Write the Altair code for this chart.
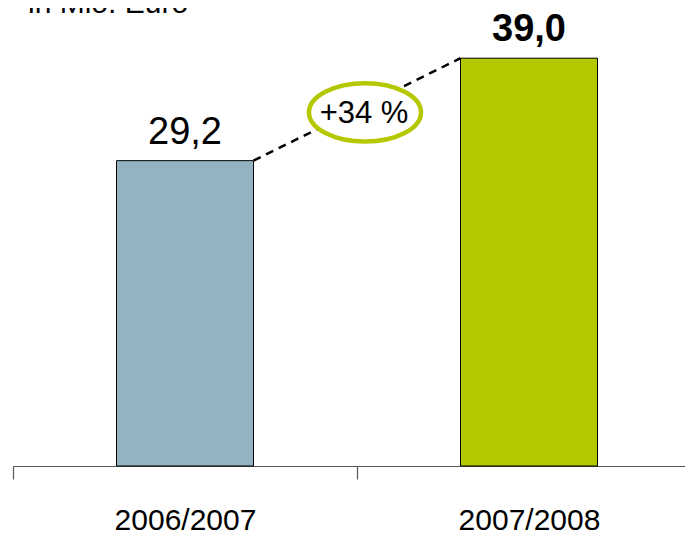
import altair as alt
import pandas as pd

categories = ["2006/2007", "2007/2008"]
values = [29.2, 39.0]
value_labels = ["29,2", "39,0"]
bar_colors = ["#94B2C2", "#B4C800"]
change_label = "+34 %"
unit_label = "in Mio. Euro"

FONT = "Liberation Sans"
W, H = 672, 458
STEP = 344  # pixel width of one category slot

# category slot centres (index + 0.5) on a continuous x scale
pos = [i + 0.5 for i in range(len(categories))]

df = pd.DataFrame({"cat": categories, "pos": pos, "val": values, "lab": value_labels, "col": bar_colors})
df_line = pd.DataFrame({"p1": [pos[0]], "p2": [pos[1]], "v1": [values[0]], "v2": [values[1]]})
df_ann = pd.DataFrame({"pos": [(pos[0] + pos[1]) / 2], "val": [sum(values) / 2], "lab": [change_label]})
df_title = pd.DataFrame({"t": [unit_label]})

xscale = alt.Scale(domain=[0, W / STEP], nice=False, zero=False, padding=0)
yscale = alt.Scale(domain=[0, 43.8], nice=False, zero=True, padding=0)

label_expr = " : ".join(
    [f"datum.value == {p} ? '{c}'" for p, c in zip(pos, categories)] + ["''"]
)
tick_vals = sorted([float(i) for i in range(len(categories))] + pos)

x_axis = alt.Axis(
    title=None, values=tick_vals, labelExpr=label_expr, labelAngle=0, labelFont=FONT,
    labelFontSize=30, labelColor="#000000", labelBaseline="alphabetic", labelPadding=50,
    tickSize=13, domainColor="#555555", tickColor="#555555", grid=False,
    domainWidth=1.2, tickWidth=1.2, labelFlush=False, labelOverlap=False,
    tickOpacity={"condition": {"test": "datum.value % 1 == 0", "value": 1}, "value": 0},
)

bars = alt.Chart(df).mark_bar(size=137, stroke="#000000", strokeWidth=1).encode(
    x=alt.X("pos:Q", scale=xscale, axis=x_axis),
    y=alt.Y("val:Q", scale=yscale, axis=None),
    color=alt.Color("col:N", scale=None, legend=None),
)

lab1 = alt.Chart(df).transform_filter(alt.datum.cat == categories[0]).mark_text(
    font=FONT, fontSize=38, baseline="alphabetic", dy=-17, color="#000000"
).encode(x=alt.X("pos:Q", scale=xscale), y=alt.Y("val:Q", scale=yscale), text="lab:N")

lab2 = alt.Chart(df).transform_filter(alt.datum.cat == categories[1]).mark_text(
    font=FONT, fontSize=38, fontWeight="bold", baseline="alphabetic", dy=-17, color="#000000"
).encode(x=alt.X("pos:Q", scale=xscale), y=alt.Y("val:Q", scale=yscale), text="lab:N")

line = alt.Chart(df_line).mark_rule(
    color="#000000", strokeWidth=2.5, strokeDash=[8, 6], xOffset=68.5, x2Offset=-68.5
).encode(
    x=alt.X("p1:Q", scale=xscale),
    x2="p2:Q",
    y=alt.Y("v1:Q", scale=yscale),
    y2="v2:Q",
)

ellipse_path = "M-1,0A1,0.52,0,1,0,1,0A1,0.52,0,1,0,-1,0Z"
ell = alt.Chart(df_ann).mark_point(
    shape=ellipse_path, size=12544, filled=True, fill="#FFFFFF", stroke="#B4C800", strokeWidth=4.5,
    opacity=1, xOffset=8, yOffset=3
).encode(x=alt.X("pos:Q", scale=xscale), y=alt.Y("val:Q", scale=yscale))

ann_text = alt.Chart(df_ann).mark_text(
    font=FONT, fontSize=31, baseline="middle", align="center", dx=7, dy=5, color="#000000"
).encode(x=alt.X("pos:Q", scale=xscale), y=alt.Y("val:Q", scale=yscale), text="lab:N")

title = alt.Chart(df_title).mark_text(
    font=FONT, fontSize=30, baseline="alphabetic", align="left", color="#000000"
).encode(x=alt.value(15), y=alt.value(5), text="t:N")

chart = alt.layer(bars, line, lab1, lab2, ell, ann_text, title).properties(
    width=W, height=H,
    autosize=alt.AutoSizeParams(type="none"),
    padding={"left": 5, "top": 0, "right": 0, "bottom": 64},
).configure_view(stroke=None)

chart.save("out.html", embed_options={"renderer": "svg", "actions": False})
